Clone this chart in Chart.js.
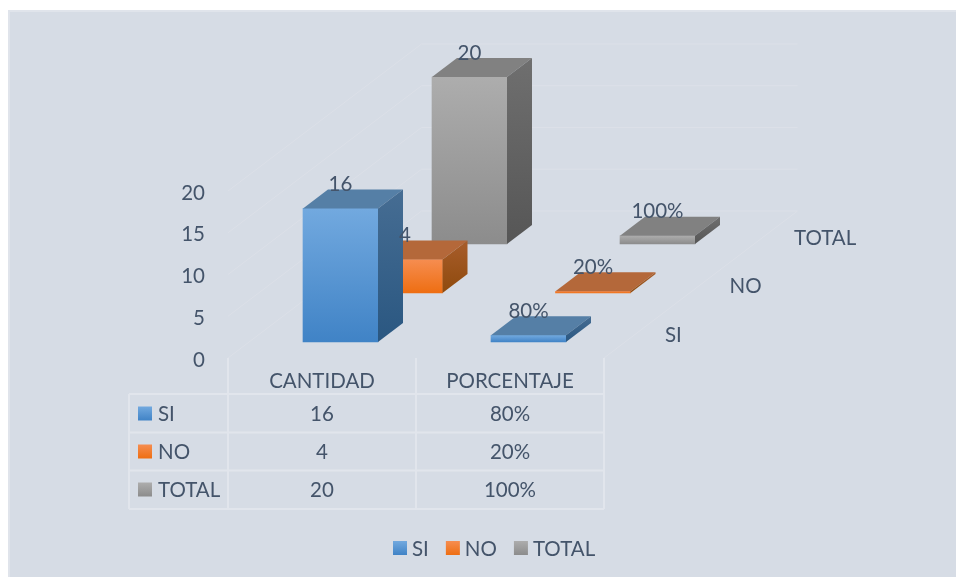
<!DOCTYPE html>
<html>
<head>
<meta charset="utf-8">
<style>
  html, body { margin: 0; padding: 0; background: #fff; }
  canvas { display: block; }
</style>
<script src="https://cdn.jsdelivr.net/npm/chart.js@4"></script>
</head>
<body>
<canvas id="chart" width="956" height="577"></canvas>
<script>
const categories = ['CANTIDAD', 'PORCENTAJE'];
const seriesNames = ['SI', 'NO', 'TOTAL'];
const siValues = [16, 0.8];
const noValues = [4, 0.2];
const totalValues = [20, 1];
const yTicks = [0, 5, 10, 15, 20];

const TEXT = '#44546a';
const FONT = '20.5px Lato';
const GRID = '#dce0e8';
const TABLE_LINE = '#e1e5ec';

// depth of one series row and of a bar's own box
const ROW_DX = 64.5;
const ROW_DY = 49;
const BOX_DX = 25;
const BOX_DY = 19;

const palettes = [
  { front: ['#72a9df', '#4083c6'], top: '#557fa6', side: ['#466d93', '#2a5781'] },
  { front: ['#f68d50', '#ee6e12'], top: '#b4683a', side: ['#a85d2b', '#8e4a0d'] },
  { front: ['#adadad', '#8c8c8c'], top: '#818181', side: ['#6f6f6f', '#565656'] },
];

const shiftOf = (i) => ({ x: 18.5 + ROW_DX * i, y: -16 - ROW_DY * i });
const formatValue = (value, col) => (col === 1 ? Math.round(value * 100) + '%' : String(value));

const linear = (ctx, y0, y1, colors) => {
  const g = ctx.createLinearGradient(0, y0, 0, y1);
  g.addColorStop(0, colors[0]);
  g.addColorStop(1, colors[1]);
  return g;
};

const poly = (ctx, points, fill) => {
  ctx.fillStyle = fill;
  ctx.beginPath();
  points.forEach(([x, y], i) => (i ? ctx.lineTo(x, y) : ctx.moveTo(x, y)));
  ctx.closePath();
  ctx.fill();
};

const swatch = (ctx, x, y, i) => {
  ctx.fillStyle = linear(ctx, y, y + 14, palettes[i].front);
  ctx.fillRect(x, y, 14, 14);
};

const frontColor = (i) => (context) => {
  const { chart, raw } = context;
  if (!chart.chartArea || raw === undefined) return palettes[i].front[0];
  const y = chart.scales.y;
  return linear(chart.ctx, y.getPixelForValue(raw), y.getPixelForValue(0), palettes[i].front);
};

const scene3d = {
  id: 'scene3d',
  beforeDraw(chart) {
    const { ctx, width, height } = chart;
    ctx.save();
    ctx.fillStyle = '#d6dce5';
    ctx.fillRect(8, 10, width - 8, height - 10);
    ctx.fillStyle = '#e0e4eb';
    ctx.fillRect(8, 10, 2, height - 10);
    ctx.fillRect(8, 10, width - 8, 2);
    ctx.restore();
  },
  // floor and back wall lines, placed from the y scale
  beforeDatasetsDraw(chart) {
    const { ctx, chartArea, scales } = chart;
    const depthX = ROW_DX * 3;
    const depthY = ROW_DY * 3;
    ctx.save();
    ctx.strokeStyle = GRID;
    ctx.lineWidth = 1;
    yTicks.forEach((tick) => {
      const py = scales.y.getPixelForValue(tick);
      ctx.beginPath();
      ctx.moveTo(chartArea.left, py);
      ctx.lineTo(chartArea.left + depthX, py - depthY);
      ctx.lineTo(chartArea.right + depthX, py - depthY);
      ctx.stroke();
    });
    ctx.beginPath();
    ctx.moveTo(chartArea.right, chartArea.bottom);
    ctx.lineTo(chartArea.right + depthX, chartArea.bottom - depthY);
    ctx.stroke();
    ctx.restore();
  },
  beforeDatasetDraw(chart, args) {
    const s = shiftOf(args.index);
    chart.ctx.save();
    chart.ctx.translate(s.x, s.y);
  },
  afterDatasetDraw(chart, args) {
    const { ctx } = chart;
    const pal = palettes[args.index];
    args.meta.data.forEach((bar) => {
      const l = bar.x - bar.width / 2;
      const r = bar.x + bar.width / 2;
      const t = bar.y;
      const b = bar.base;
      poly(ctx, [[l, t], [l + BOX_DX, t - BOX_DY], [r + BOX_DX, t - BOX_DY], [r, t]], pal.top);
      poly(ctx, [[r, t], [r + BOX_DX, t - BOX_DY], [r + BOX_DX, b - BOX_DY], [r, b]],
        linear(ctx, t - BOX_DY, b, pal.side));
    });
    ctx.restore();
  },
  afterDatasetsDraw(chart) {
    const { ctx, chartArea, scales } = chart;
    ctx.save();
    ctx.font = FONT;
    ctx.fillStyle = TEXT;
    ctx.textBaseline = 'middle';

    // value labels over the bars
    ctx.textAlign = 'center';
    chart.data.datasets.forEach((ds, i) => {
      const s = shiftOf(i);
      chart.getDatasetMeta(i).data.forEach((bar, col) => {
        ctx.fillText(formatValue(ds.data[col], col), bar.x + s.x, bar.y + s.y - 24);
      });
    });

    // series names along the depth axis
    ctx.textAlign = 'left';
    seriesNames.forEach((name, i) => {
      ctx.fillText(name, chartArea.right + 61 + ROW_DX * i, chartArea.bottom - 23 - (ROW_DY - 0.5) * i);
    });

    // data table under the plot
    const colX = [129, scales.x.left, (scales.x.left + scales.x.right) / 2, scales.x.right];
    const rowY = [394, 432.5, 470.5, 509];
    ctx.strokeStyle = TABLE_LINE;
    ctx.lineWidth = 2;
    rowY.forEach((y) => {
      ctx.beginPath();
      ctx.moveTo(colX[0], y);
      ctx.lineTo(colX[3], y);
      ctx.stroke();
    });
    colX.forEach((x, i) => {
      ctx.beginPath();
      ctx.moveTo(x, i === 0 ? rowY[0] : chartArea.bottom);
      ctx.lineTo(x, rowY[3]);
      ctx.stroke();
    });
    ctx.textAlign = 'center';
    categories.forEach((cat, col) => {
      ctx.fillText(cat, scales.x.getPixelForValue(col), 381);
    });
    chart.data.datasets.forEach((ds, i) => {
      const y = 414 + 38 * i;
      swatch(ctx, 138, y - 7.5, i);
      ctx.fillStyle = TEXT;
      ctx.textAlign = 'left';
      ctx.fillText(ds.label, 158, y);
      ctx.textAlign = 'center';
      ds.data.forEach((value, col) => {
        ctx.fillText(formatValue(value, col), scales.x.getPixelForValue(col), y);
      });
    });

    // legend
    let x = 393;
    ctx.textAlign = 'left';
    seriesNames.forEach((name, i) => {
      swatch(ctx, x, 541, i);
      ctx.fillStyle = TEXT;
      ctx.fillText(name, x + 19, 549);
      x += 19 + ctx.measureText(name).width + 17;
    });
    ctx.restore();
  },
};

const makeDataset = (label, data, i) => ({
  label,
  data,
  backgroundColor: frontColor(i),
  borderWidth: 0,
  barThickness: 75,
  clip: false,
});

new Chart(document.getElementById('chart'), {
  type: 'bar',
  data: {
    labels: categories,
    datasets: [
      makeDataset(seriesNames[0], siValues, 0),
      makeDataset(seriesNames[1], noValues, 1),
      makeDataset(seriesNames[2], totalValues, 2),
    ],
  },
  options: {
    responsive: false,
    animation: false,
    devicePixelRatio: 1,
    layout: { padding: { left: 150, top: 191, right: 352, bottom: 219 } },
    datasets: { bar: { grouped: false } },
    plugins: { legend: { display: false }, tooltip: { enabled: false } },
    scales: {
      x: { display: false },
      y: {
        min: 0,
        max: 20,
        afterFit: (scale) => { scale.width = 78; },
        grid: { display: false },
        border: { display: false },
        ticks: { stepSize: 5, padding: 15, labelOffset: 2, color: TEXT, font: { family: 'Lato', size: 20.5 } },
      },
    },
  },
  plugins: [scene3d],
});
</script>
</body>
</html>
